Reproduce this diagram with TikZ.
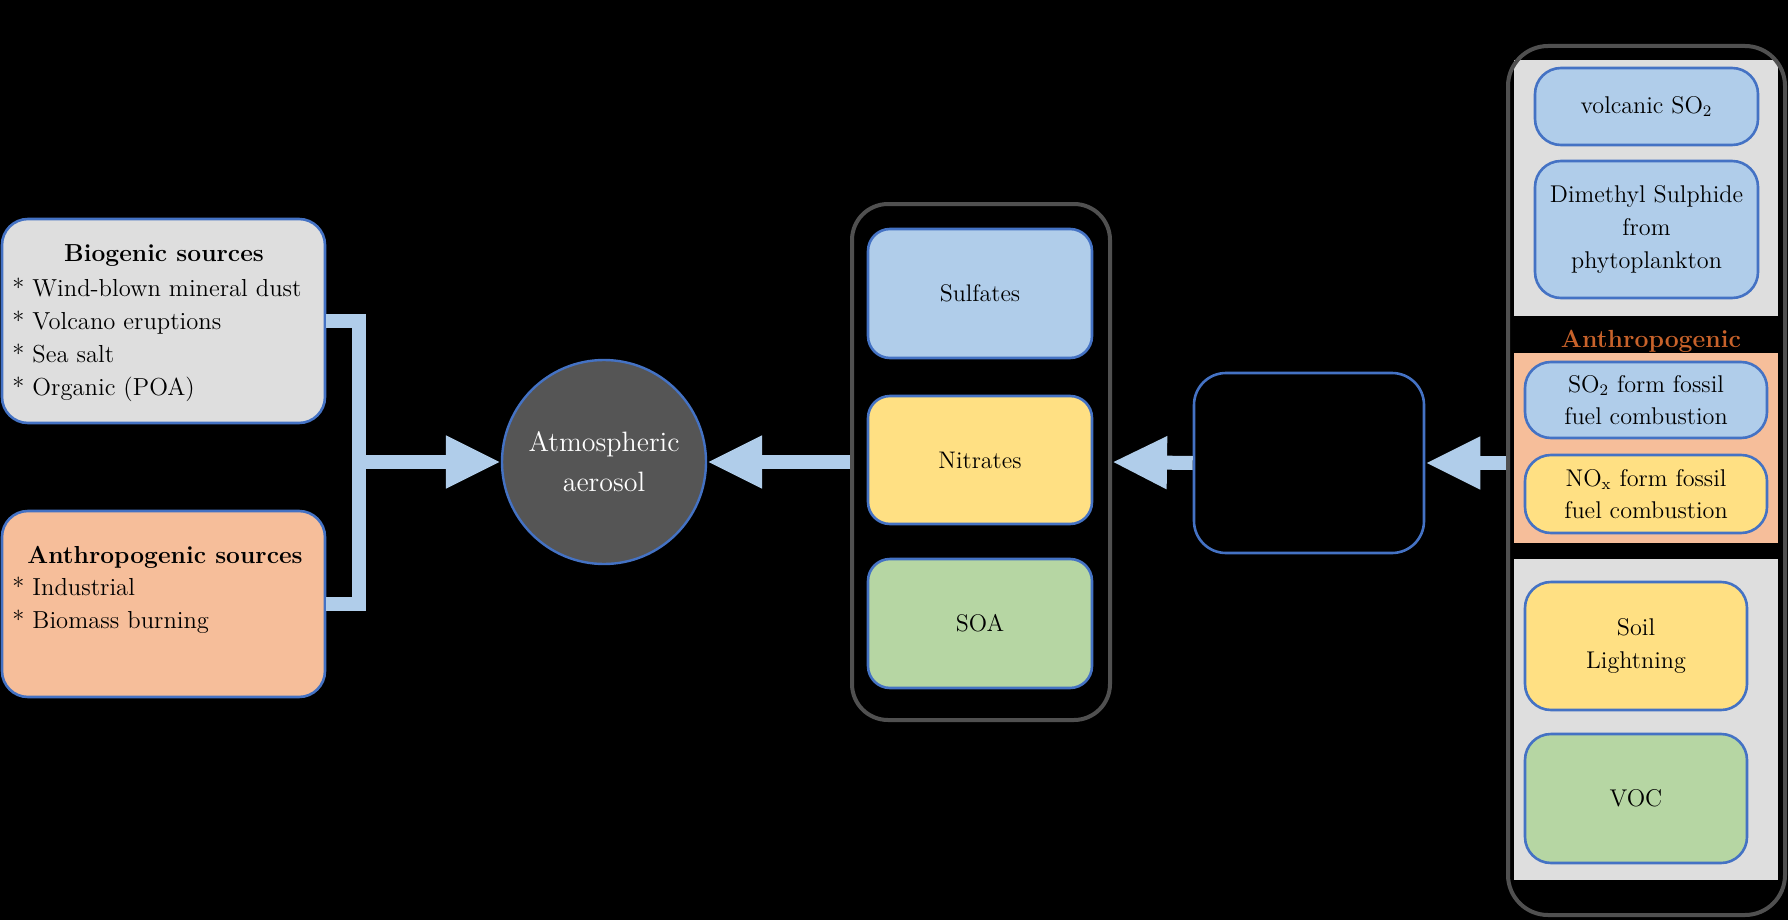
\documentclass[tikz,border=0pt]{standalone}
\usetikzlibrary{arrows.meta,fit}
\definecolor{lblue}{HTML}{B0CDEA}
\definecolor{bblue}{HTML}{4472C4}
\definecolor{lyellow}{HTML}{FFE083}
\definecolor{lgreen}{HTML}{B6D6A3}
\definecolor{lorange}{HTML}{F6BE9A}
\definecolor{lgray}{HTML}{DEDEDE}
\definecolor{dgray}{HTML}{555555}
\definecolor{framegray}{HTML}{505050}
\definecolor{anthro}{HTML}{C8622A}
\begin{document}
\begin{tikzpicture}[x=0.5pt,y=-0.5pt,
  box/.style={draw=bblue, line width=1.3pt, rounded corners=11pt, inner sep=0pt, align=center},
  midfont/.style={font=\fontsize{12}{17}\selectfont},
  rfont/.style={font=\fontsize{12.1}{16.3}\selectfont},
  lfont/.style={font=\fontsize{12.3}{16.4}\selectfont},
  container/.style={draw=framegray, line width=2pt, inner sep=0pt},
  conn/.style={draw=lblue, line width=7pt},
  arr/.style={conn, -{Triangle[length=27.5pt,width=24.5pt]}}]
\useasboundingbox (0,0) rectangle (1788,920);
\fill[black] (0,0) rectangle (1788,920);

% left source boxes
\node[box, fill=lgray, rounded corners=13pt, fit={(2,219)(325,423)}] (bio) {};
\node[font=\fontsize{12.3}{16}\bfseries\selectfont] (biot) at (164,256) {Biogenic sources};
\node[lfont, anchor=north west, align=left, inner sep=0pt] (biol) at (12,278)
  {* Wind-blown mineral dust\\* Volcano eruptions\\* Sea salt\\* Organic (POA)};

\node[box, fill=lorange, rounded corners=13pt, fit={(2,511)(325,697)}] (anth) {};
\node[font=\fontsize{12.3}{16}\bfseries\selectfont] (antht) at (165,557) {Anthropogenic sources};
\node[lfont, anchor=north west, align=left, inner sep=0pt] (anthl) at (12,577)
  {* Industrial\\* Biomass burning};

% connector to aerosol
\coordinate (j) at (359,462);
\draw[conn] (bio.east) -| (j) |- (anth.east);

\node[circle, draw=bblue, line width=1.2pt, fill=dgray, minimum size=102pt, inner sep=0pt,
  text=white, align=center, font=\fontsize{14}{20}\selectfont] (circ) at (604,462) {Atmospheric\\aerosol};
\draw[arr] (j) -- (circ.west);

% middle container
\node[container, rounded corners=18pt, fit={(852,204)(1110,720)}] (mid) {};
\node[box, midfont, fill=lblue, minimum width=112pt, minimum height=64.5pt] (sulf) at (980,293.5) {Sulfates};
\node[box, midfont, fill=lyellow, minimum width=112pt, minimum height=64pt] (nitr) at (980,460) {Nitrates};
\node[box, midfont, fill=lgreen, minimum width=112pt, minimum height=64.5pt] (soa) at (980,623.5) {SOA};
\draw[arr] (mid.west) -- (circ.east);

% precursor box
\node[draw=bblue, line width=1.3pt, rounded corners=16pt, inner sep=0pt, fit={(1194,373)(1424,553)}] (prec) {};
\draw[arr] (prec.west) -- (mid.east);

% right container panels
\fill[lgray] (1514,60) rectangle (1778,316);
\fill[lorange] (1514,353) rectangle (1778,543);
\fill[lgray] (1514,559) rectangle (1778,880);
\node[container, rounded corners=20pt, fit={(1508,46)(1785,915)}] (rc) {};
\node[text=anthro, font=\fontsize{12.4}{14}\bfseries\selectfont] (anlab) at (1651,341) {Anthropogenic};

\node[box, rfont, fill=lblue, rounded corners=13pt, minimum width=111.5pt, minimum height=38.5pt] (volc) at (1646.5,106.5) {volcanic SO$_2$};
\node[box, rfont, fill=lblue, rounded corners=13pt, minimum width=111.5pt, minimum height=68.5pt] (dms) at (1646.5,229.5) {Dimethyl Sulphide\\from\\phytoplankton};
\node[box, rfont, fill=lblue, rounded corners=13pt, minimum width=121pt, minimum height=38pt] (sofos) at (1646,400) {SO$_2$ form fossil\\fuel combustion};
\node[box, rfont, fill=lyellow, rounded corners=13pt, minimum width=121pt, minimum height=39pt] (noxfos) at (1646,494) {NO$_\mathrm{x}$ form fossil\\fuel combustion};
\node[box, rfont, fill=lyellow, rounded corners=13pt, minimum width=111pt, minimum height=64pt] (soil) at (1636,646) {Soil\\Lightning};
\node[box, rfont, fill=lgreen, rounded corners=13pt, minimum width=111pt, minimum height=64.5pt] (voc) at (1636,798.5) {VOC};

\draw[arr] (rc.west |- prec.east) -- (prec.east);
\end{tikzpicture}
\end{document}
